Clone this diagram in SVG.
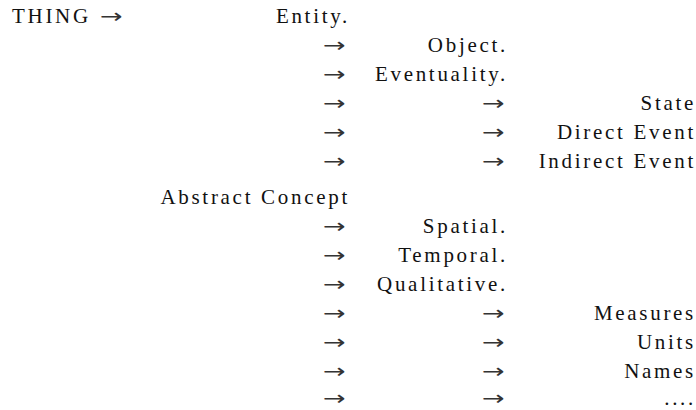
<svg xmlns="http://www.w3.org/2000/svg" width="696" height="410" viewBox="0 0 696 410">
<style>
  text { font-family: "Liberation Serif", "DejaVu Serif", serif; font-size: 21px; fill: #111; }
  .lbl { letter-spacing: 2.7px; }
  .end { text-anchor: end; }
  .arr { font-family: "DejaVu Sans", sans-serif; font-size: 20px; fill: #333; }
</style>
<rect width="696" height="410" fill="#fff"/>
<g id="thing"><text class="lbl" x="12" y="23">THING</text></g>
<g id="entity"><text class="lbl end" x="350" y="23">Entity.</text></g>
<g id="object"><text class="lbl end" x="508" y="52">Object.</text></g>
<g id="eventuality"><text class="lbl end" x="508" y="81">Eventuality.</text></g>
<g id="state"><text class="lbl end" x="696" y="110">State</text></g>
<g id="direct-event"><text class="lbl end" x="696" y="139">Direct Event</text></g>
<g id="indirect-event"><text class="lbl end" x="696" y="168">Indirect Event</text></g>
<g id="abstract-concept"><text class="lbl end" x="350" y="204">Abstract Concept</text></g>
<g id="spatial"><text class="lbl end" x="508" y="233">Spatial.</text></g>
<g id="temporal"><text class="lbl end" x="508" y="262">Temporal.</text></g>
<g id="qualitative"><text class="lbl end" x="508" y="291">Qualitative.</text></g>
<g id="measures"><text class="lbl end" x="696" y="320">Measures</text></g>
<g id="units"><text class="lbl end" x="696" y="349">Units</text></g>
<g id="names"><text class="lbl end" x="696" y="378">Names</text></g>
<g id="more"><text class="lbl end" x="696" y="405">....</text></g>
<g id="connectors">
  <text class="arr" transform="translate(100,23) scale(1.35,1)">→</text>
  <text class="arr" transform="translate(323,52) scale(1.35,1)">→</text>
  <text class="arr" transform="translate(323,81) scale(1.35,1)">→</text>
  <text class="arr" transform="translate(323,110) scale(1.35,1)">→</text>
  <text class="arr" transform="translate(482,110) scale(1.35,1)">→</text>
  <text class="arr" transform="translate(323,139) scale(1.35,1)">→</text>
  <text class="arr" transform="translate(482,139) scale(1.35,1)">→</text>
  <text class="arr" transform="translate(323,168) scale(1.35,1)">→</text>
  <text class="arr" transform="translate(482,168) scale(1.35,1)">→</text>
  <text class="arr" transform="translate(323,233) scale(1.35,1)">→</text>
  <text class="arr" transform="translate(323,262) scale(1.35,1)">→</text>
  <text class="arr" transform="translate(323,291) scale(1.35,1)">→</text>
  <text class="arr" transform="translate(323,320) scale(1.35,1)">→</text>
  <text class="arr" transform="translate(482,320) scale(1.35,1)">→</text>
  <text class="arr" transform="translate(323,349) scale(1.35,1)">→</text>
  <text class="arr" transform="translate(482,349) scale(1.35,1)">→</text>
  <text class="arr" transform="translate(323,378) scale(1.35,1)">→</text>
  <text class="arr" transform="translate(482,378) scale(1.35,1)">→</text>
  <text class="arr" transform="translate(323,405) scale(1.35,1)">→</text>
  <text class="arr" transform="translate(482,405) scale(1.35,1)">→</text>
</g>
</svg>
